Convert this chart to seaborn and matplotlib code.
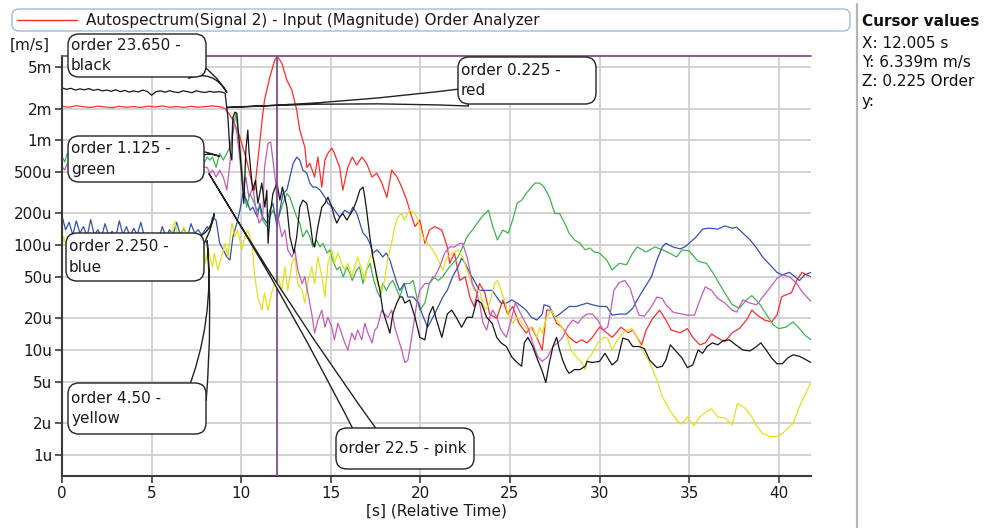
import numpy as np
import matplotlib
matplotlib.use('Agg')
import matplotlib.pyplot as plt
from matplotlib.patches import FancyBboxPatch
from matplotlib.ticker import NullLocator
import seaborn as sns

sns.set_theme(style="white")
plt.rcParams['font.family'] = ['DejaVu Sans']

W, H = 985, 528

# (time [s], magnitude [u m/s])
red = [(0, 2100), (0.4, 2060), (0.8, 2130), (1.2, 2080), (1.6, 2050), (2.0, 2110), (2.4, 2070),
       (2.8, 2040), (3.2, 2100), (3.6, 2060), (4.0, 2090), (4.4, 2050), (4.8, 2110), (5.2, 2070),
       (5.6, 2120), (6.0, 2060), (6.4, 2090), (6.8, 2050), (7.2, 2100), (7.6, 2060), (8.0, 2090),
       (8.4, 2120), (8.8, 2080), (9.1, 2000), (9.37, 1730), (9.54, 1550), (9.93, 1070), (10.3, 645),
       (10.6, 390), (10.75, 334), (10.93, 645), (11.15, 1450), (11.3, 2400), (11.6, 4000),
       (11.87, 5780), (12.005, 6339), (12.27, 5400), (12.55, 3730), (12.83, 2990), (13.1, 1930),
       (13.27, 1250), (13.55, 860), (13.66, 550), (13.83, 600), (14.1, 445), (14.28, 690),
       (14.5, 357), (14.67, 645), (14.84, 750), (15.06, 840), (15.2, 750), (15.5, 550), (15.67, 334),
       (15.95, 550), (16.2, 690), (16.45, 578), (16.73, 690), (17.0, 600), (17.3, 445), (17.57, 485),
       (17.85, 390), (18.13, 285), (18.4, 518), (18.7, 445), (18.96, 357), (19.24, 268), (19.4, 215),
       (19.7, 150), (19.97, 173), (20.25, 104), (20.5, 139), (20.8, 150), (21.2, 139), (21.5, 96),
       (21.64, 67), (21.9, 84), (22.2, 46), (22.5, 50), (22.76, 32), (23.0, 26), (23.3, 43),
       (23.6, 35), (23.87, 22), (24.26, 20), (24.6, 30), (24.87, 22), (25.15, 26), (25.5, 18),
       (25.9, 14.5), (26.2, 16.5), (26.5, 13.2), (26.8, 10), (27.05, 24), (27.3, 24), (27.6, 18),
       (27.9, 16.5), (28.3, 13.2), (28.7, 11.7), (29.0, 12.5), (29.3, 11.7), (29.6, 13.2),
       (30.0, 16.5), (30.4, 14.6), (30.7, 13.2), (31.2, 16.5), (31.6, 14.6), (31.85, 15.5),
       (32.35, 11.2), (32.6, 15.5), (32.96, 19.9), (33.35, 24), (33.7, 19.3), (34.0, 15.5),
       (34.5, 14.6), (34.9, 16), (35.2, 13.2), (35.6, 11.2), (35.9, 11.7), (36.25, 14.2), (36.6, 13),
       (37.0, 12), (37.4, 14.6), (37.8, 16), (38.2, 19.3), (38.5, 24), (38.8, 21.5), (39.2, 19.3),
       (39.6, 18.5), (39.9, 21.5), (40.16, 32), (40.3, 33), (40.7, 35), (41.0, 46), (41.3, 55),
       (41.55, 52), (41.8, 50)]

black = [(0, 3150), (0.25, 3050), (0.5, 3120), (0.75, 3000), (1.0, 3080), (1.25, 3020), (1.5, 3100),
         (1.75, 2980), (2.0, 3050), (2.25, 2950), (2.5, 3000), (2.75, 2920), (3.0, 3020), (3.25, 2900),
         (3.5, 2980), (3.75, 2870), (4.0, 2950), (4.25, 2880), (4.5, 3000), (4.75, 2920), (5.0, 2680),
         (5.25, 2900), (5.5, 2950), (5.75, 2860), (6.0, 2960), (6.25, 2880), (6.5, 2840), (6.75, 2950),
         (7.0, 2900), (7.25, 2830), (7.5, 2960), (7.75, 2880), (8.0, 2850), (8.25, 2920), (8.5, 2860),
         (8.75, 2900), (9.0, 2850), (9.1, 2800), (9.26, 1650), (9.37, 800), (9.48, 645), (9.54, 1650),
         (9.65, 1850), (9.76, 1800), (9.87, 1070), (10.04, 445), (10.15, 250), (10.26, 800),
         (10.37, 1250), (10.43, 800), (10.6, 390), (10.65, 334), (10.8, 416), (10.93, 250),
         (11.15, 390), (11.32, 230), (11.43, 334), (11.5, 104), (11.6, 185), (11.77, 310), (12.0, 390),
         (12.16, 268), (12.3, 357), (12.55, 230), (12.72, 120), (12.94, 84), (13.1, 120), (13.27, 230),
         (13.44, 268), (13.66, 250), (13.83, 173), (14.0, 104), (14.1, 96), (14.28, 150), (14.5, 230),
         (14.67, 250), (14.84, 286), (15.06, 230), (15.2, 185), (15.34, 162), (15.5, 185),
         (15.67, 200), (15.9, 173), (16.06, 193), (16.23, 215), (16.45, 268), (16.62, 334),
         (16.8, 357), (16.9, 286), (17.0, 215), (17.18, 120), (17.35, 77), (17.57, 50), (17.74, 37),
         (17.9, 24), (18.13, 18), (18.3, 14.5), (18.46, 22), (18.68, 28), (18.85, 32), (19.0, 32),
         (19.13, 28), (19.4, 30), (19.7, 20.5), (19.97, 13.2), (20.25, 12.5), (20.5, 22), (20.7, 26),
         (20.9, 19.3), (21.2, 13.2), (21.5, 22), (21.75, 24), (22.0, 20.5), (22.3, 16.5), (22.6, 20.5),
         (22.9, 20.5), (23.15, 30), (23.4, 28), (23.7, 20.5), (24.0, 18), (24.26, 13.2), (24.5, 11.7),
         (24.8, 10.8), (25.1, 8.6), (25.4, 7.6), (25.65, 7.0), (25.8, 11.7), (26.0, 13.2),
         (26.27, 10.8), (26.55, 8.0), (26.77, 6.5), (27.0, 4.9), (27.2, 7.6), (27.4, 10.8),
         (27.6, 13.2), (27.77, 10), (27.94, 8.0), (28.16, 6.5), (28.3, 6.0), (28.6, 6.5), (28.9, 6.5),
         (29.2, 7.0), (29.3, 7.8), (29.6, 7.6), (30.0, 7.8), (30.3, 9.3), (30.7, 7.2), (31.0, 8.0),
         (31.3, 13), (31.6, 12.5), (31.85, 10.8), (32.2, 10.8), (32.5, 10.3), (32.8, 8.0), (33.2, 6.8),
         (33.5, 7.0), (33.7, 8.0), (33.95, 11.2), (34.3, 9.6), (34.6, 8.4), (34.9, 6.8), (35.2, 7.2),
         (35.5, 10), (35.75, 9.3), (36.0, 10.8), (36.3, 11.7), (36.6, 11.2), (36.9, 12.3),
         (37.25, 12.5), (37.6, 11.2), (38.0, 10), (38.4, 9.8), (38.76, 10.8), (39.0, 11.7), (39.3, 10),
         (39.6, 8.4), (39.9, 7.4), (40.2, 7.4), (40.5, 8.4), (40.8, 9.0), (41.16, 8.7), (41.45, 8.2),
         (41.8, 7.6)]

green = [(0, 700), (0.15, 620), (0.3, 750), (0.6, 600), (1, 650), (2, 620), (3, 640), (4, 600),
         (5, 640), (6, 610), (7, 630), (7.7, 650), (7.9, 600), (8.1, 690), (8.25, 645), (8.4, 690),
         (8.6, 550), (8.8, 750), (9.0, 645), (9.2, 750), (9.37, 860), (9.54, 1170), (9.7, 1800),
         (9.8, 1330), (10.0, 645), (10.1, 416), (10.3, 230), (10.5, 310), (10.65, 268), (10.9, 215),
         (11.04, 230), (11.2, 173), (11.43, 150), (11.6, 185), (11.77, 215), (12.0, 173), (12.16, 200),
         (12.33, 250), (12.55, 310), (12.72, 286), (12.9, 230), (13.1, 185), (13.27, 162),
         (13.44, 120), (13.66, 139), (13.83, 120), (14.0, 96), (14.2, 112), (14.4, 96), (14.56, 104),
         (14.8, 84), (14.95, 90), (15.1, 72), (15.34, 58), (15.5, 62), (15.7, 50), (15.9, 62),
         (16.06, 54), (16.2, 46), (16.45, 58), (16.6, 62), (16.8, 43), (17.0, 58), (17.2, 67),
         (17.35, 50), (17.57, 37), (17.74, 32), (17.9, 43), (18.1, 37), (18.3, 43), (18.46, 46),
         (18.7, 37), (18.85, 32), (19.1, 43), (19.4, 43), (19.6, 46), (19.8, 32), (19.97, 24),
         (20.25, 28), (20.5, 43), (20.7, 50), (21.0, 46), (21.25, 50), (21.5, 58), (21.8, 67),
         (22.1, 77), (22.36, 96), (22.6, 120), (22.9, 139), (23.3, 173), (23.6, 200), (23.8, 215),
         (24.04, 150), (24.3, 112), (24.6, 139), (24.9, 130), (25.15, 173), (25.4, 250), (25.65, 268),
         (25.9, 310), (26.2, 357), (26.4, 390), (26.66, 390), (26.9, 357), (27.2, 286), (27.5, 200),
         (27.77, 200), (28.05, 162), (28.3, 130), (28.6, 112), (28.9, 104), (29.2, 90), (29.45, 94),
         (29.7, 86), (30.0, 84), (30.4, 72), (30.7, 58), (31.1, 67), (31.5, 65), (31.85, 84),
         (32.1, 96), (32.6, 86), (33.1, 96), (33.5, 90), (33.9, 84), (34.3, 77), (34.6, 90), (35.0, 88),
         (35.5, 70), (35.97, 67), (36.4, 52), (36.9, 37), (37.4, 27), (37.8, 25), (38.2, 30),
         (38.5, 33), (38.9, 28), (39.3, 22), (39.7, 17.3), (40.0, 16), (40.4, 16.5), (40.8, 18.5),
         (41.16, 16), (41.45, 13.9), (41.8, 12.5)]

blue = [(0, 190), (0.2, 140), (0.4, 165), (0.6, 125), (0.8, 170), (1.0, 130), (1.2, 150), (1.4, 120),
        (1.6, 175), (1.8, 125), (2.0, 140), (2.2, 118), (2.4, 160), (2.6, 125), (2.8, 135), (3.0, 120),
        (3.2, 170), (3.4, 125), (3.6, 150), (3.8, 120), (4.0, 145), (4.2, 125), (4.4, 165), (4.6, 120),
        (4.8, 130), (5.0, 118), (5.2, 122), (5.4, 115), (5.6, 150), (5.8, 120), (6.0, 140), (6.2, 125),
        (6.4, 165), (6.6, 125), (6.8, 145), (7.0, 120), (7.2, 160), (7.4, 130), (7.6, 140), (7.8, 125),
        (8.1, 150), (8.25, 139), (8.4, 185), (8.6, 173), (8.8, 104), (9.0, 90), (9.2, 77), (9.37, 72),
        (9.54, 120), (9.76, 162), (9.93, 215), (10.1, 310), (10.3, 268), (10.5, 215), (10.65, 230),
        (10.9, 185), (11.04, 250), (11.2, 185), (11.43, 162), (11.6, 215), (11.77, 250), (12.0, 150),
        (12.16, 215), (12.33, 310), (12.55, 334), (12.72, 445), (12.9, 600), (13.1, 690),
        (13.27, 645), (13.44, 518), (13.66, 485), (13.83, 390), (14.0, 357), (14.2, 357), (14.4, 334),
        (14.67, 286), (14.84, 250), (15.1, 230), (15.34, 200), (15.5, 185), (15.78, 215), (16.06, 200),
        (16.23, 230), (16.45, 200), (16.62, 162), (16.8, 130), (17.0, 120), (17.18, 104), (17.35, 84),
        (17.57, 90), (17.74, 84), (17.9, 77), (18.1, 84), (18.3, 72), (18.46, 58), (18.7, 43),
        (18.85, 37), (19.1, 43), (19.3, 32), (19.6, 32), (19.9, 28), (20.1, 22), (20.4, 16.5),
        (20.7, 20.5), (21.0, 26), (21.25, 32), (21.5, 37), (21.8, 50), (22.1, 62), (22.3, 75),
        (22.5, 67), (22.76, 54), (23.0, 46), (23.3, 37), (23.7, 37), (24.0, 37), (24.26, 32),
        (24.5, 28), (24.8, 28), (25.1, 30), (25.4, 28), (25.65, 26), (25.9, 24), (26.2, 20.5),
        (26.5, 19.3), (26.8, 22), (26.9, 27), (27.2, 26), (27.5, 20.5), (27.77, 22), (28.05, 24),
        (28.3, 26), (28.7, 26), (29.0, 27), (29.3, 28), (29.6, 27), (30.0, 26), (30.4, 26),
        (30.7, 21.5), (31.1, 22), (31.5, 22), (31.85, 25), (32.1, 30), (32.5, 39), (32.9, 50),
        (33.2, 72), (33.5, 96), (33.7, 104), (34.1, 96), (34.5, 92), (34.75, 96), (35.0, 104),
        (35.4, 120), (35.75, 142), (36.1, 145), (36.6, 142), (37.0, 152), (37.4, 145), (37.65, 148),
        (38.0, 130), (38.4, 112), (38.76, 94), (39.1, 77), (39.5, 65), (39.9, 55), (40.2, 52),
        (40.6, 55), (40.9, 50), (41.16, 46), (41.45, 52), (41.8, 55)]

yellow = [(0, 95), (0.1, 120), (0.3, 90), (1, 100), (2, 95), (3, 105), (4, 95), (5, 100), (5.5, 110),
          (6.0, 105), (6.3, 170), (6.5, 110), (6.8, 150), (7.0, 115), (7.3, 120), (7.6, 100),
          (7.9, 110), (8.0, 67), (8.15, 90), (8.4, 62), (8.5, 84), (8.7, 58), (8.9, 77), (9.1, 104),
          (9.26, 77), (9.48, 162), (9.65, 120), (9.8, 139), (10.04, 90), (10.2, 120), (10.37, 139),
          (10.6, 104), (10.76, 50), (10.93, 32), (11.15, 24), (11.3, 35), (11.5, 24), (11.7, 35),
          (11.87, 43), (12.05, 50), (12.27, 37), (12.44, 62), (12.6, 37), (12.83, 67), (13.0, 77),
          (13.16, 43), (13.4, 37), (13.55, 28), (13.7, 43), (13.94, 62), (14.1, 43), (14.28, 77),
          (14.5, 50), (14.67, 32), (14.84, 67), (15.06, 90), (15.2, 67), (15.4, 84), (15.6, 67),
          (15.78, 58), (15.95, 67), (16.17, 50), (16.34, 62), (16.5, 77), (16.73, 58), (16.9, 46),
          (17.07, 67), (17.3, 84), (17.46, 67), (17.6, 43), (17.85, 37), (18.0, 46), (18.2, 77),
          (18.4, 104), (18.57, 150), (18.74, 185), (18.96, 200), (19.1, 173), (19.4, 215), (19.7, 200),
          (19.86, 173), (20.13, 120), (20.4, 104), (20.7, 90), (21.0, 72), (21.25, 58), (21.5, 77),
          (21.8, 84), (22.1, 90), (22.36, 77), (22.6, 58), (22.87, 43), (23.0, 37), (23.3, 37),
          (23.6, 24), (23.87, 28), (24.15, 43), (24.3, 46), (24.5, 37), (24.7, 30), (24.9, 22),
          (25.15, 18), (25.4, 20.5), (25.7, 18), (26.0, 15.5), (26.27, 16.5), (26.5, 13.2),
          (26.66, 16.5), (26.8, 14.5), (27.05, 20.5), (27.3, 24), (27.6, 19.3), (27.9, 16.5),
          (28.2, 13.2), (28.4, 10), (28.7, 8.6), (29.0, 7.6), (29.2, 6.5), (29.3, 8.0), (29.6, 9.3),
          (29.9, 11.7), (30.2, 13.2), (30.45, 13), (30.7, 10), (31.0, 12.5), (31.3, 14.6), (31.6, 15.5),
          (31.8, 16), (32.1, 13.2), (32.4, 10), (32.8, 7.6), (33.2, 5.2), (33.5, 3.6), (33.9, 2.7),
          (34.3, 2.15), (34.6, 1.97), (34.9, 2.3), (35.25, 1.9), (35.6, 2.3), (35.97, 2.6),
          (36.25, 2.75), (36.6, 2.3), (37.0, 2.25), (37.4, 1.93), (37.7, 3.1), (38.1, 2.8), (38.5, 2.3),
          (38.76, 1.9), (39.1, 1.6), (39.5, 1.5), (39.9, 1.5), (40.2, 1.6), (40.8, 2.0), (41.16, 2.9),
          (41.45, 3.7), (41.8, 4.9)]

pink = [(0, 560), (0.15, 520), (0.3, 600), (1, 540), (2, 560), (3, 530), (4, 550), (5, 540), (6, 560),
        (7, 530), (7.8, 560), (8.1, 550), (8.25, 485), (8.4, 518), (8.6, 445), (8.8, 518), (9.0, 445),
        (9.2, 334), (9.37, 600), (9.54, 1650), (9.76, 1170), (9.93, 645), (10.1, 334), (10.26, 445),
        (10.43, 286), (10.65, 357), (10.8, 230), (11.0, 162), (11.2, 185), (11.3, 550), (11.5, 935),
        (11.65, 960), (11.77, 645), (11.93, 390), (12.05, 185), (12.27, 120), (12.44, 139), (12.6, 90),
        (12.83, 77), (13.0, 90), (13.16, 58), (13.4, 43), (13.55, 50), (13.72, 35), (13.94, 22),
        (14.1, 14.5), (14.28, 19.3), (14.5, 24), (14.67, 16.5), (14.84, 20.5), (15.06, 16.5),
        (15.2, 12.5), (15.4, 18), (15.6, 14.5), (15.78, 11.7), (15.95, 10), (16.17, 14.5),
        (16.34, 12.5), (16.5, 15.5), (16.73, 12.5), (16.9, 18), (17.07, 14.5), (17.3, 11.7),
        (17.46, 15.5), (17.6, 16.5), (17.85, 24), (18.0, 22), (18.2, 20.5), (18.4, 24), (18.57, 16.5),
        (18.74, 13.2), (18.96, 10), (19.13, 7.6), (19.3, 8.0), (19.4, 10), (19.6, 16.5), (19.8, 28),
        (19.97, 37), (20.25, 43), (20.5, 43), (20.8, 50), (21.08, 62), (21.36, 84), (21.64, 96),
        (21.9, 96), (22.2, 104), (22.36, 104), (22.6, 77), (22.76, 58), (22.9, 43), (23.15, 35),
        (23.3, 28), (23.5, 18), (23.7, 15.5), (23.87, 20.5), (24.04, 24), (24.26, 20.5), (24.5, 15.5),
        (24.8, 13.2), (25.1, 20.5), (25.3, 28), (25.4, 26), (25.7, 20.5), (26.0, 16.5), (26.27, 11.7),
        (26.55, 8.6), (26.8, 7.8), (27.1, 8.6), (27.4, 10.8), (27.66, 11.7), (27.94, 13.2),
        (28.2, 16.5), (28.5, 19.3), (28.8, 18), (29.05, 20.5), (29.3, 22), (29.6, 22), (29.9, 19.3),
        (30.2, 15.5), (30.45, 16.5), (30.56, 20.5), (30.8, 37), (31.1, 44), (31.4, 46), (31.7, 39),
        (31.96, 28), (32.2, 21.5), (32.5, 21), (32.9, 26), (33.2, 32), (33.5, 31), (33.7, 27),
        (34.1, 23), (34.6, 22), (34.9, 21.5), (35.3, 21.5), (35.6, 30), (35.9, 40), (36.25, 37),
        (36.6, 31), (37.0, 28), (37.4, 24), (37.65, 23), (38.0, 30), (38.4, 28), (38.76, 27),
        (39.1, 32), (39.5, 39), (39.9, 48), (40.2, 52), (40.6, 50), (41.0, 43), (41.3, 36), (41.8, 29)]

# cursor
cursor_x = 12.005
cursor_y = 6.339e-3

ytick_vals = [1e-6, 2e-6, 5e-6, 1e-5, 2e-5, 5e-5, 1e-4, 2e-4, 5e-4, 1e-3, 2e-3, 5e-3]
ytick_labels = ['1u', '2u', '5u', '10u', '20u', '50u', '100u', '200u', '500u', '1m', '2m', '5m']
xtick_vals = [0, 5, 10, 15, 20, 25, 30, 35, 40]

title = "Autospectrum(Signal 2) - Input (Magnitude) Order Analyzer"

series = [(red, '#ff2b2b'), (green, '#3cb44b'), (blue, '#3352b0'),
          (yellow, '#e2e21a'), (pink, '#c65ab8'), (black, '#151515')]

# callouts: text, box (px), tip (data), tail base (px), curvature, tail width
callouts = [
    ("order 23.650 -\nblack", (68, 34, 206, 77), (9.2, 2.85e-3), (190, 68), -0.25, 1.5),
    ("order 0.225 -\nred", (458, 57, 596, 104), (9.2, 2.05e-3), (468, 97), 0.0, 1.3),
    ("order 1.125 -\ngreen", (68, 136, 204, 182), (8.8, 7.0e-4), (182, 160), -0.25, 2.0),
    ("order 2.250 -\nblue", (66, 233, 204, 281), (8.5, 2.0e-4), (188, 250), 0.25, 1.8),
    ("order 4.50 -\nyellow", (68, 383, 206, 434), (8.1, 1.1e-4), (196, 398), 0.08, 1.5),
    ("order 22.5 - pink", (336, 428, 474, 469), (8.2, 4.8e-4), (372, 442), 0.0, 1.6),
]

fig = plt.figure(figsize=(W / 100, H / 100), dpi=100)
ax = fig.add_axes([62 / W, 1 - 476 / H, (811 - 62) / W, (476 - 56) / H])

for pts, col in series:
    t, v = zip(*pts)
    sns.lineplot(x=np.array(t), y=np.array(v) * 1e-6, color=col, lw=0.9,
                 estimator=None, sort=False, ax=ax)

ax.set_yscale('log')
ax.set_xlim(0, 41.8)
ax.set_ylim(6.3e-7, cursor_y)
ax.set_yticks(ytick_vals)
ax.set_yticklabels(ytick_labels)
ax.yaxis.set_minor_locator(NullLocator())
ax.set_xticks(xtick_vals)
ax.grid(True, color='#d0d0d0', lw=1.3)
ax.set_axisbelow(True)
for s in ['top', 'right']:
    ax.spines[s].set_visible(False)
for s in ['left', 'bottom']:
    ax.spines[s].set_color('#3a3a3a')
    ax.spines[s].set_linewidth(1.5)
ax.tick_params(axis='both', which='major', direction='out', length=5, width=1.2,
               color='#3a3a3a', labelsize=11, labelcolor='#1a1a1a', pad=2,
               left=True, bottom=True)
ax.set_xlabel("[s] (Relative Time)", fontsize=11, color='#1a1a1a', labelpad=2)
ax.set_ylabel("")

# cursor lines
ax.axvline(cursor_x, color='#7b4f8c', lw=1.3, zorder=4)
ax.axhline(cursor_y, color='#7b4f8c', lw=1.3, zorder=4, clip_on=False)

# callout tails (in the axes) and boxes/text (on the figure, above the traces)
for text, (x0, y0, x1, y1), tip, (bx, by), rad, tw in callouts:
    ax.annotate('', xy=tip, xycoords='data', xytext=(bx, H - by), textcoords='figure pixels',
                annotation_clip=False, zorder=6,
                arrowprops=dict(arrowstyle='wedge,tail_width=%.2f,shrink_factor=0.18' % tw,
                                fc='white', ec='#222222', lw=1.0, mutation_scale=10,
                                connectionstyle='arc3,rad=%.2f' % rad,
                                shrinkA=0, shrinkB=0))
    box = FancyBboxPatch((x0 / 100, (H - y1) / 100), (x1 - x0) / 100, (y1 - y0) / 100,
                         boxstyle='round,pad=0,rounding_size=0.11',
                         transform=fig.dpi_scale_trans, fc='white', ec='#222222', lw=1.0,
                         zorder=8)
    fig.add_artist(box)
    fig.text((x0 + 3) / W, 1 - (y0 + y1) / 2 / H, text, ha='left', va='center',
             fontsize=11, color='#1a1a1a', linespacing=1.45, zorder=9)

# signal legend strip
leg_box = FancyBboxPatch((12 / 100, (H - 31) / 100), (850 - 12) / 100, 22 / 100,
                         boxstyle='round,pad=0,rounding_size=0.07',
                         transform=fig.dpi_scale_trans, fc='white', ec='#9fbbdc', lw=1.0, zorder=8)
fig.add_artist(leg_box)
fig.add_artist(plt.Line2D([17 / W, 77 / W], [1 - 20 / H, 1 - 20 / H], color='#ff2b2b', lw=1.0,
                          zorder=9))
fig.text(86 / W, 1 - 20 / H, title, ha='left', va='center', fontsize=11, color='#1a1a1a', zorder=9)

fig.text(10 / W, 1 - 45 / H, "[m/s]", ha='left', va='center', fontsize=11, color='#1a1a1a')

# cursor values panel
fig.add_artist(plt.Line2D([857 / W, 857 / W], [0, 1 - 4 / H], color='#b4b4b4', lw=1.6))
fig.text(862 / W, 1 - 22 / H, "Cursor values", ha='left', va='center', fontsize=11,
         fontweight='bold', color='#111111')
panel = ["X: 12.005 s", "Y: 6.339m m/s", "Z: 0.225 Order", "y:"]
for i, line in enumerate(panel):
    fig.text(862 / W, 1 - (43 + 19.5 * i) / H, line, ha='left', va='center', fontsize=11,
             color='#111111')

fig.savefig("out.png", dpi=100)
